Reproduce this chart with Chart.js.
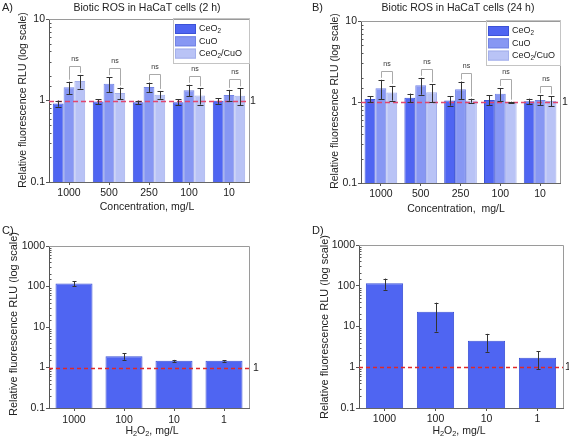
<!DOCTYPE html>
<html>
<head>
<meta charset="utf-8">
<script src="https://cdn.jsdelivr.net/npm/chart.js@4.4.1/dist/chart.umd.min.js"></script>
<style>
  html, body { margin: 0; padding: 0; background: #fff; }
  #wrap { position: relative; width: 569px; height: 442px; overflow: hidden; }
  canvas { position: absolute; }
</style>
</head>
<body>
<div id="wrap">
  <canvas id="cA" style="left:0;top:0" width="285" height="220"></canvas>
  <canvas id="cB" style="left:285px;top:0" width="284" height="220"></canvas>
  <canvas id="cC" style="left:0;top:220px" width="285" height="222"></canvas>
  <canvas id="cD" style="left:285px;top:220px" width="284" height="222"></canvas>
</div>
<script>
// categories
const concLabels = ['1000', '500', '250', '100', '10'];
const h2o2Labels = ['1000', '100', '10', '1'];
const seriesNames = ['CeO2', 'CuO', 'CeO2/CuO'];
const nsLabels = ['ns', 'ns', 'ns', 'ns', 'ns'];

// A) 2 h
const ceo2_2h     = [0.92, 0.97, 0.95, 0.95, 0.99];
const ceo2_2h_sd  = [0.08, 0.07, 0.05, 0.08, 0.08];
const cuo_2h      = [1.45, 1.60, 1.46, 1.34, 1.17];
const cuo_2h_sd   = [0.25, 0.33, 0.20, 0.22, 0.18];
const mix_2h      = [1.73, 1.24, 1.18, 1.15, 1.14];
const mix_2h_sd   = [0.33, 0.20, 0.13, 0.26, 0.27];

// B) 24 h
const ceo2_24h    = [1.09, 1.13, 1.04, 1.06, 1.02];
const ceo2_24h_sd = [0.09, 0.14, 0.14, 0.15, 0.08];
const cuo_24h     = [1.48, 1.61, 1.44, 1.26, 1.06];
const cuo_24h_sd  = [0.40, 0.38, 0.35, 0.23, 0.15];
const mix_24h     = [1.31, 1.32, 1.04, 0.99, 1.03];
const mix_24h_sd  = [0.27, 0.33, 0.06, 0.02, 0.14];

// C) / D) H2O2 controls
const h2o2_C      = [118, 1.9, 1.46, 1.46];
const h2o2_C_sd   = [16, 0.35, 0.08, 0.06];
const h2o2_D      = [115, 23, 4.5, 1.7];
const h2o2_D_sd   = [35, 15.5, 2.1, 0.8];

const FONT = "'Liberation Sans', Arial, sans-serif";
const fills   = ['#4f65f2', '#8797f3', '#b9c3f6'];
const borders = ['#3c52d6', '#7384e4', '#a4b0ec'];

function isPow10(v) {
  const l = Math.log10(v);
  return Math.abs(l - Math.round(l)) < 1e-9;
}

// draw text with optional subscripts; parts = [[text, isSub], ...]
function drawRich(ctx, parts, x, y, align, size) {
  let w = 0;
  parts.forEach(p => {
    ctx.font = (p[1] ? size * 0.7 : size) + 'px ' + FONT;
    w += ctx.measureText(p[0]).width;
  });
  let cx = align === 'center' ? x - w / 2 : x;
  ctx.textAlign = 'left';
  ctx.textBaseline = 'middle';
  parts.forEach(p => {
    ctx.font = (p[1] ? size * 0.7 : size) + 'px ' + FONT;
    ctx.fillText(p[0], cx, p[1] ? y + size * 0.3 : y);
    cx += ctx.measureText(p[0]).width;
  });
}

const nameParts = [
  [['CeO', false], ['2', true]],
  [['CuO', false]],
  [['CeO', false], ['2', true], ['/CuO', false]],
];

const extras = {
  id: 'extras',
  afterDatasetsDraw(chart, args, o) {
    const ctx = chart.ctx, a = chart.chartArea, y = chart.scales.y;
    ctx.save();
    // minor ticks pointing inward
    ctx.strokeStyle = '#555';
    ctx.lineWidth = 1;
    y.ticks.forEach(t => {
      if (isPow10(t.value)) return;
      const py = Math.round(y.getPixelForValue(t.value)) + 0.5;
      ctx.beginPath(); ctx.moveTo(a.left, py); ctx.lineTo(a.left + 2.5, py); ctx.stroke();
    });
    // top + right frame
    ctx.strokeStyle = '#9a9a9a';
    ctx.beginPath();
    ctx.moveTo(a.left, Math.round(a.top) + 0.5);
    ctx.lineTo(Math.round(a.right) + 0.5, Math.round(a.top) + 0.5);
    ctx.lineTo(Math.round(a.right) + 0.5, a.bottom);
    ctx.stroke();
    // reference line at 1
    const p1 = Math.round(y.getPixelForValue(1)) + 0.5;
    ctx.setLineDash(o.dash);
    ctx.strokeStyle = o.refColor;
    ctx.lineWidth = o.refWidth;
    ctx.beginPath(); ctx.moveTo(a.left, p1); ctx.lineTo(a.right, p1); ctx.stroke();
    ctx.setLineDash([]);
    ctx.fillStyle = '#222';
    ctx.font = '10.5px ' + FONT;
    ctx.textAlign = 'left';
    ctx.textBaseline = 'middle';
    ctx.fillText('1', a.right + o.refGap, p1);

    // error bars
    ctx.strokeStyle = '#333';
    ctx.lineWidth = 1;
    const tops = [];
    chart.data.datasets.forEach((ds, di) => {
      const meta = chart.getDatasetMeta(di);
      tops[di] = [];
      ds.data.forEach((v, i) => {
        const sd = o.errors[di][i];
        const bx = Math.round(meta.data[i].x) + 0.5;
        const hi = y.getPixelForValue(v + sd);
        const lo = y.getPixelForValue(Math.max(v - sd, 0.101));
        tops[di][i] = hi;
        ctx.beginPath();
        ctx.moveTo(bx, hi); ctx.lineTo(bx, lo);
        ctx.moveTo(bx - o.cap, Math.round(hi) + 0.5); ctx.lineTo(bx + o.cap, Math.round(hi) + 0.5);
        ctx.moveTo(bx - o.cap, Math.round(lo) + 0.5); ctx.lineTo(bx + o.cap, Math.round(lo) + 0.5);
        ctx.stroke();
      });
    });

    // "ns" brackets between CuO and CeO2/CuO
    if (o.brackets) {
      const m1 = chart.getDatasetMeta(1), m2 = chart.getDatasetMeta(2);
      o.brackets.forEach((txt, i) => {
        const x1 = Math.round(m1.data[i].x) + 0.5, x2 = Math.round(m2.data[i].x) + 0.5;
        const t1 = tops[1][i], t2 = tops[2][i];
        const top = Math.round(Math.min(t1, t2) - 9) + 0.5;
        ctx.strokeStyle = '#aaa';
        ctx.beginPath();
        ctx.moveTo(x1, t1 - 2); ctx.lineTo(x1, top); ctx.lineTo(x2, top); ctx.lineTo(x2, t2 - 2);
        ctx.stroke();
        ctx.fillStyle = '#333';
        ctx.font = '7px ' + FONT;
        ctx.textAlign = 'center';
        ctx.textBaseline = 'middle';
        ctx.fillText(txt, (x1 + x2) / 2, top - 7);
      });
    }
    ctx.restore();
  },
  afterDraw(chart, args, o) {
    const ctx = chart.ctx;
    ctx.save();
    ctx.fillStyle = '#222';
    // panel letter
    ctx.font = '11px ' + FONT;
    ctx.textAlign = 'left';
    ctx.textBaseline = 'middle';
    ctx.fillText(o.letter[0], o.letter[1], o.letter[2]);
    // title
    if (o.title) {
      ctx.font = '10.5px ' + FONT;
      ctx.textAlign = 'center';
      ctx.fillText(o.title[0], o.title[1], o.title[2]);
    }
    // y title
    ctx.save();
    ctx.translate(o.yTitle[0], o.yTitle[1]);
    ctx.rotate(-Math.PI / 2);
    ctx.font = o.yTitle[2] + 'px ' + FONT;
    ctx.textAlign = 'center';
    ctx.textBaseline = 'middle';
    ctx.fillText('Relative fluorescence RLU (log scale)', 0, 0);
    ctx.restore();
    // x title
    drawRich(ctx, o.xTitle[0], o.xTitle[1], o.xTitle[2], 'center', 10.5);
    // legend
    if (o.legend) {
      const L = o.legend;
      ctx.strokeStyle = '#c4c4c4';
      ctx.lineWidth = 1;
      ctx.strokeRect(L.x + 0.5, L.y + 0.5, L.w, L.h);
      seriesNames.forEach((n, i) => {
        const ry = L.y + 6 + i * 12.3;
        ctx.fillStyle = fills[i];
        ctx.fillRect(L.x + 2, ry, 21, 10);
        ctx.strokeStyle = borders[i];
        ctx.strokeRect(L.x + 2.5, ry + 0.5, 20, 9);
        ctx.fillStyle = '#222';
        drawRich(ctx, nameParts[i], L.x + 26, ry + 5, 'left', 9);
      });
    }
    ctx.restore();
  }
};

function makePanel(id, cfg) {
  const canvas = document.getElementById(id);
  const W = canvas.width, H = canvas.height;
  return new Chart(canvas, {
    type: 'bar',
    data: { labels: cfg.labels, datasets: cfg.datasets },
    plugins: [extras],
    options: {
      responsive: false,
      animation: false,
      devicePixelRatio: 1,
      layout: { padding: { left: 0, top: cfg.area.top, right: W - cfg.area.right, bottom: 0 } },
      datasets: { bar: { categoryPercentage: cfg.catPct, barPercentage: 1, borderWidth: 1 } },
      plugins: {
        legend: { display: false },
        tooltip: { enabled: false },
        extras: cfg.extras,
      },
      scales: {
        x: {
          grid: { offset: false, drawOnChartArea: false, tickLength: 3, tickColor: '#555' },
          border: { color: '#666' },
          ticks: { color: '#222', font: { size: 10.5, family: FONT }, padding: cfg.xPad, maxRotation: 0 },
          afterFit: s => { s.height = H - cfg.area.bottom; },
        },
        y: {
          type: 'logarithmic',
          min: cfg.yMin,
          max: cfg.yMax,
          grid: {
            drawOnChartArea: false,
            tickLength: 3,
            tickColor: c => (c.tick && isPow10(c.tick.value)) ? '#555' : 'rgba(0,0,0,0)',
          },
          border: { color: '#555' },
          ticks: {
            autoSkip: false,
            color: '#222',
            padding: 1,
            font: { size: 10.5, family: FONT },
            callback: v => isPow10(v) ? (v < 1 ? String(+v.toFixed(1)) : String(Math.round(v))) : '',
          },
          afterFit: s => { s.width = cfg.area.left; },
        },
      },
    },
  });
}

function barSet(data, i) {
  return { label: seriesNames[i], data, backgroundColor: fills[i], borderColor: borders[i] };
}

const concTitle = [['Concentration, mg/L', false]];
const h2o2Title = [['H', false], ['2', true], ['O', false], ['2', true], [', mg/L', false]];

makePanel('cA', {
  labels: concLabels,
  datasets: [barSet(ceo2_2h, 0), barSet(cuo_2h, 1), barSet(mix_2h, 2)],
  area: { left: 49, right: 249, top: 19, bottom: 182 },
  catPct: 0.81, xPad: 2, yMin: 0.1, yMax: 10,
  extras: {
    errors: [ceo2_2h_sd, cuo_2h_sd, mix_2h_sd], cap: 3, brackets: nsLabels,
    dash: [5, 3], refColor: '#e0466e', refWidth: 1.5, refGap: 1,
    letter: ['A)', 2, 8], title: ['Biotic ROS in HaCaT cells (2 h)', 147, 8],
    yTitle: [23, 100, 10.5], xTitle: [concTitle, 147, 207],
    legend: { x: 173, y: 18, w: 76, h: 45 },
  },
});

makePanel('cB', {
  labels: concLabels,
  datasets: [barSet(ceo2_24h, 0), barSet(cuo_24h, 1), barSet(mix_24h, 2)],
  area: { left: 76, right: 275, top: 21, bottom: 183 },
  catPct: 0.82, xPad: 2, yMin: 0.1, yMax: 10,
  extras: {
    errors: [ceo2_24h_sd, cuo_24h_sd, mix_24h_sd], cap: 3, brackets: nsLabels,
    dash: [5, 3], refColor: '#e0466e', refWidth: 1.5, refGap: 2,
    letter: ['B)', 27, 8], title: ['Biotic ROS in HaCaT cells (24 h)', 173, 8],
    yTitle: [50, 101, 10.5], xTitle: [[['Concentration,  mg/L', false]], 171, 209],
    legend: { x: 201, y: 20, w: 74, h: 45 },
  },
});

makePanel('cC', {
  labels: h2o2Labels,
  datasets: [barSet(h2o2_C, 0)],
  area: { left: 49, right: 249, top: 26, bottom: 188 },
  catPct: 0.74, xPad: 3, yMin: 0.1, yMax: 1000,
  extras: {
    errors: [h2o2_C_sd], cap: 2,
    dash: [4, 3], refColor: '#e02828', refWidth: 1.4, refGap: 4,
    letter: ['C)', 2, 11],
    yTitle: [14, 104, 11], xTitle: [h2o2Title, 152, 211],
  },
});

makePanel('cD', {
  labels: h2o2Labels,
  datasets: [barSet(h2o2_D, 0)],
  area: { left: 74, right: 278, top: 25, bottom: 188 },
  catPct: 0.73, xPad: 2, yMin: 0.1, yMax: 1000,
  extras: {
    errors: [h2o2_D_sd], cap: 2,
    dash: [4, 3], refColor: '#e02828', refWidth: 1.4, refGap: 2,
    letter: ['D)', 27, 11],
    yTitle: [40, 107, 11], xTitle: [h2o2Title, 174, 211],
  },
});
</script>
</body>
</html>
